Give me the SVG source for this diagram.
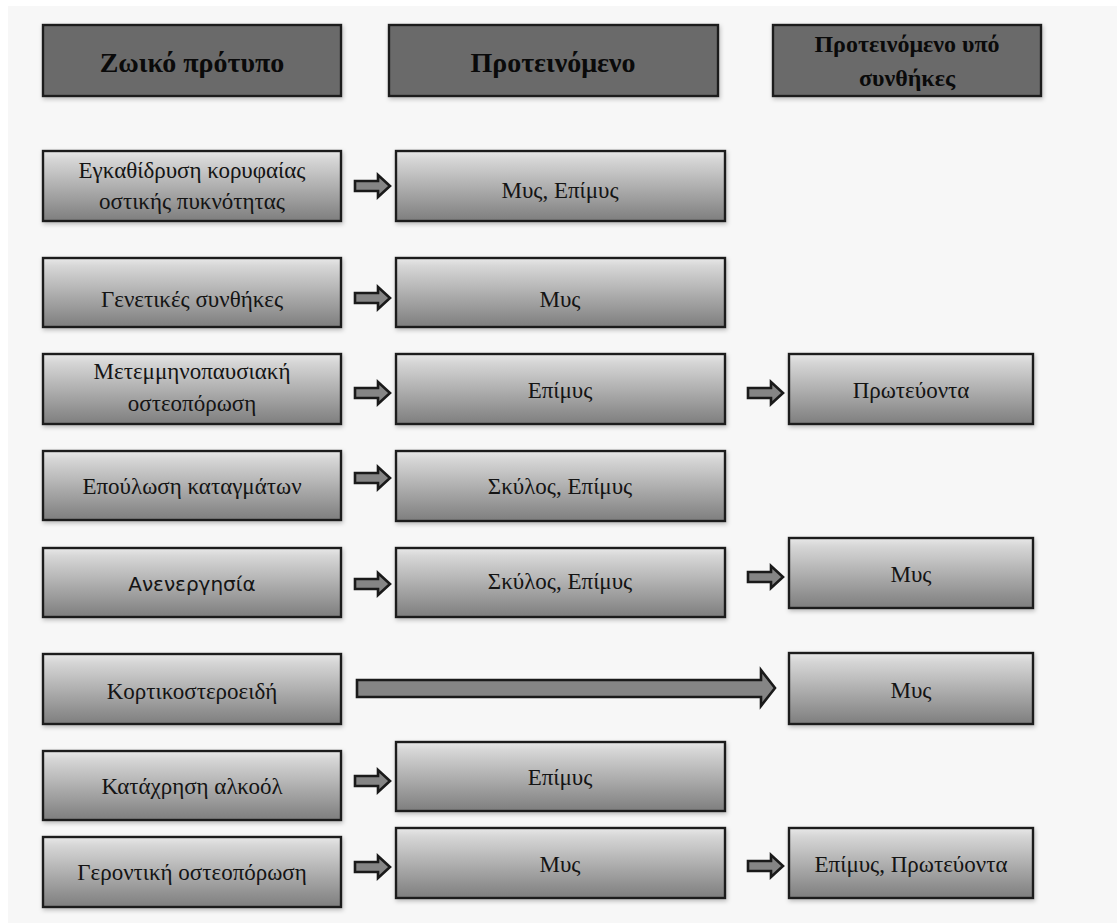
<svg xmlns="http://www.w3.org/2000/svg" width="1117" height="923" viewBox="0 0 1117 923">
<defs>
<linearGradient id="gBox" x1="0" y1="0" x2="0" y2="1">
<stop offset="0" stop-color="#e8e8e8"/>
<stop offset="0.12" stop-color="#d6d6d6"/>
<stop offset="1" stop-color="#7e7e7e"/>
</linearGradient>
<filter id="sh" x="-5%" y="-10%" width="110%" height="130%">
<feDropShadow dx="1" dy="2" stdDeviation="2" flood-color="#000" flood-opacity="0.25"/>
</filter>
<path id="sArrow" d="M0,-5 H23 V-11 L35,0 L23,11 V5 H0 Z"/>
</defs>
<style>
.bx{fill:url(#gBox);stroke:#1e1e1e;stroke-width:2.4;filter:url(#sh)}
.hd{fill:#6b6b6b;stroke:#1e1e1e;stroke-width:2.4;filter:url(#sh)}
.t{font-family:"Liberation Serif","Times New Roman",serif;font-size:23px;fill:#141414;text-anchor:middle}
.ts{font-family:"DejaVu Sans","Liberation Sans",sans-serif;font-size:20px;fill:#141414;text-anchor:middle}
.th{font-family:"Liberation Serif","Times New Roman",serif;font-size:28px;font-weight:bold;fill:#0a0a0a;text-anchor:middle}
.th2{font-family:"Liberation Serif","Times New Roman",serif;font-size:24px;font-weight:bold;fill:#0a0a0a;text-anchor:middle}
.ar{fill:#858585;stroke:#1a1a1a;stroke-width:2.6;stroke-linejoin:miter}
</style>
<rect x="0" y="0" width="1117" height="923" fill="#ffffff"/>
<rect x="8" y="6" width="1109" height="917" fill="#f7f7f7"/>

<g id="header-1"><rect class="hd" x="43" y="25" width="298" height="71"/><text class="th" x="192" y="72">Ζωικό πρότυπο</text></g>
<g id="header-2"><rect class="hd" x="389" y="25" width="329" height="71"/><text class="th" x="553" y="72">Προτεινόμενο</text></g>
<g id="header-3"><rect class="hd" x="773" y="25" width="268" height="71"/><text class="th2" x="907" y="52">Προτεινόμενο υπό</text><text class="th2" x="907" y="86">συνθήκες</text></g>

<g id="row1-left"><rect class="bx" x="43" y="151" width="298" height="70"/><text class="t" x="192" y="178">Εγκαθίδρυση κορυφαίας</text><text class="t" x="192" y="209">οστικής πυκνότητας</text></g>
<g id="row1-mid"><rect class="bx" x="396" y="151" width="329" height="70"/><text class="t" x="560" y="198">Μυς, Επίμυς</text></g>

<g id="row2-left"><rect class="bx" x="43" y="258" width="298" height="69"/><text class="t" x="192" y="307">Γενετικές συνθήκες</text></g>
<g id="row2-mid"><rect class="bx" x="396" y="258" width="329" height="69"/><text class="t" x="560" y="307">Μυς</text></g>

<g id="row3-left"><rect class="bx" x="43" y="354" width="298" height="70"/><text class="t" x="192" y="379">Μετεμμηνοπαυσιακή</text><text class="t" x="192" y="411">οστεοπόρωση</text></g>
<g id="row3-mid"><rect class="bx" x="396" y="354" width="329" height="70"/><text class="t" x="560" y="398">Επίμυς</text></g>
<g id="row3-right"><rect class="bx" x="789" y="354" width="244" height="70"/><text class="t" x="911" y="398">Πρωτεύοντα</text></g>

<g id="row4-left"><rect class="bx" x="43" y="451" width="298" height="69"/><text class="t" x="192" y="494">Επούλωση καταγμάτων</text></g>
<g id="row4-mid"><rect class="bx" x="396" y="451" width="329" height="70"/><text class="t" x="560" y="494">Σκύλος, Επίμυς</text></g>

<g id="row5-left"><rect class="bx" x="43" y="548" width="298" height="69"/><text class="ts" x="192" y="591">Ανενεργησία</text></g>
<g id="row5-mid"><rect class="bx" x="396" y="548" width="329" height="69"/><text class="t" x="560" y="589">Σκύλος, Επίμυς</text></g>
<g id="row5-right"><rect class="bx" x="789" y="538" width="244" height="70"/><text class="t" x="911" y="582">Μυς</text></g>

<g id="row6-left"><rect class="bx" x="43" y="654" width="298" height="70"/><text class="t" x="192" y="699">Κορτικοστεροειδή</text></g>
<g id="row6-right"><rect class="bx" x="789" y="653" width="244" height="71"/><text class="t" x="911" y="698">Μυς</text></g>

<g id="row7-left"><rect class="bx" x="43" y="751" width="298" height="69"/><text class="t" x="192" y="794">Κατάχρηση αλκοόλ</text></g>
<g id="row7-mid"><rect class="bx" x="396" y="742" width="329" height="69"/><text class="t" x="560" y="785">Επίμυς</text></g>

<g id="row8-left"><rect class="bx" x="43" y="837" width="298" height="70"/><text class="t" x="192" y="880">Γεροντική οστεοπόρωση</text></g>
<g id="row8-mid"><rect class="bx" x="396" y="828" width="329" height="70"/><text class="t" x="560" y="872">Μυς</text></g>
<g id="row8-right"><rect class="bx" x="789" y="828" width="244" height="70"/><text class="t" x="911" y="872">Επίμυς, Πρωτεύοντα</text></g>

<g id="connectors">
<use href="#sArrow" class="ar" x="355" y="186"/>
<use href="#sArrow" class="ar" x="355" y="298"/>
<use href="#sArrow" class="ar" x="355" y="393"/>
<use href="#sArrow" class="ar" x="355" y="478"/>
<use href="#sArrow" class="ar" x="355" y="584"/>
<use href="#sArrow" class="ar" x="355" y="781"/>
<use href="#sArrow" class="ar" x="355" y="867"/>
<use href="#sArrow" class="ar" x="748" y="393"/>
<use href="#sArrow" class="ar" x="748" y="577"/>
<use href="#sArrow" class="ar" x="748" y="866"/>
<path class="ar" d="M357,680 H761 V670 L775,688 L761,706 V697 H357 Z"/>
</g>
</svg>
